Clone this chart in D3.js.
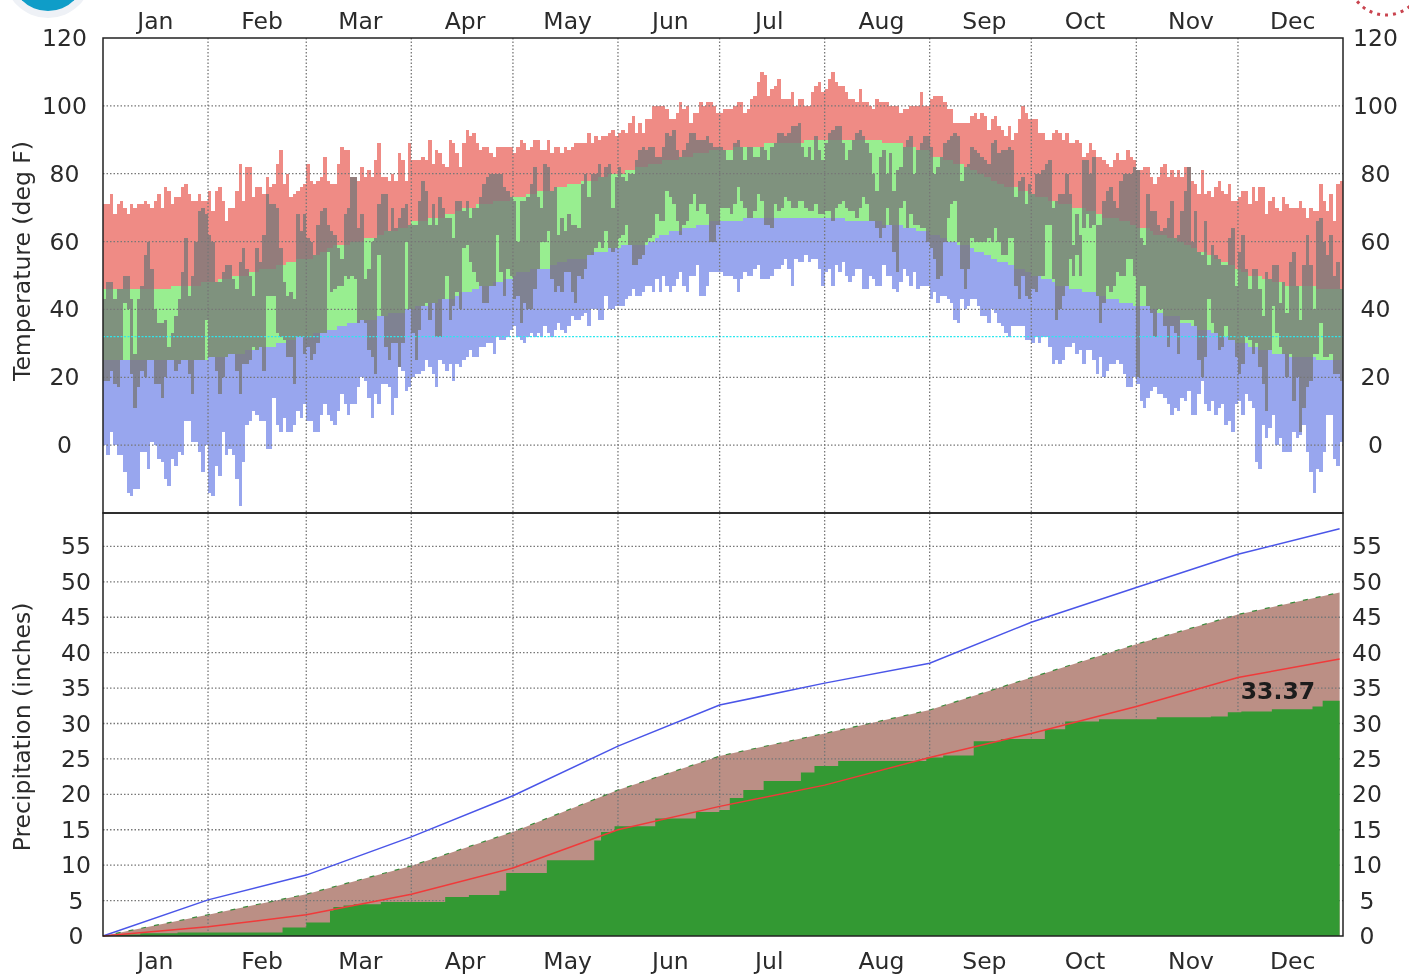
<!DOCTYPE html>
<html>
<head>
<meta charset="utf-8">
<script src="https://cdn.jsdelivr.net/npm/d3@7"></script>
<style>
  body { margin: 0; background: #fff; }
  text { font-family: "DejaVu Sans", sans-serif; font-size: 23.5px; fill: #2b2b2b; }
  .axis path, .axis line { display: none; }
  .grid { stroke: #777; stroke-width: 1.3; stroke-dasharray: 1.5 2; fill: none; }
  svg { filter: blur(0.45px); }
</style>
</head>
<body>
<div class="chart"></div>
<script>
// Daily values, Jan 1 to Dec 31 of a leap year, one line per month (deg F)
var recordHigh = [
  71,71,74,68,71,72,70,68,71,70,71,71,72,71,70,72,74,70,76,75,71,73,73,76,77,74,72,72,74,72,72,
  75,69,75,76,72,66,70,70,75,83,72,82,82,73,76,76,74,79,76,77,83,87,77,80,73,74,75,76,77,
  83,78,77,78,79,85,78,77,77,83,88,87,87,79,79,78,82,79,81,79,84,89,79,79,78,80,78,86,84,78,89,
  84,84,84,85,84,90,83,87,86,83,82,90,89,86,82,89,93,91,92,89,87,88,88,86,85,88,88,88,88,88,
  86,88,90,89,87,88,90,90,87,87,90,86,88,88,86,88,87,88,89,89,89,89,92,89,91,90,91,91,92,93,91,
  92,93,92,95,97,92,95,92,96,96,100,100,100,100,99,96,96,98,101,99,100,95,98,98,101,100,101,101,100,98,
  98,99,99,99,100,101,101,98,99,102,103,107,110,109,103,105,106,108,102,102,102,104,100,102,102,100,100,104,106,107,104,
  105,108,110,107,106,106,104,102,102,101,105,101,101,100,99,102,101,101,101,100,100,100,98,99,99,100,100,100,104,100,100,
  102,103,103,103,101,99,99,95,95,95,95,95,97,98,96,98,97,93,96,97,94,93,91,94,90,92,96,100,98,96,
  96,96,92,92,90,90,92,93,92,90,92,89,89,90,89,85,86,89,87,85,85,84,83,82,84,86,84,84,87,85,84,
  81,81,82,82,79,77,79,82,83,79,81,79,81,79,82,82,78,77,74,81,74,75,73,76,78,75,74,77,72,72,
  73,75,75,71,76,72,76,76,68,72,73,70,69,73,71,70,70,70,72,70,67,70,69,69,77,72,69,74,66,77,78
];
var recordLow = [
  0,-3,4,0,-3,-3,-8,-14,-15,-13,-13,-2,-2,-7,1,0,-4,-5,-10,-12,-4,-6,-2,-3,7,7,1,1,-2,-8,0,
  -14,-15,-6,-9,4,-3,-1,-3,-10,-18,-5,6,7,10,9,7,7,-1,-1,14,6,4,8,4,4,6,10,8,12,
  7,7,4,4,9,12,9,7,6,10,15,12,9,12,12,17,20,19,14,8,15,12,18,18,17,9,14,23,22,16,17,
  20,21,21,22,25,23,21,17,25,24,22,24,19,24,23,25,26,28,26,26,29,29,30,30,27,32,31,31,32,34,
  35,32,31,30,32,33,32,33,32,35,33,32,34,36,34,33,35,38,37,37,38,39,35,40,40,37,37,44,40,40,41,
  41,41,43,44,46,44,44,45,47,47,45,49,45,50,47,45,47,49,51,47,45,50,50,53,44,44,47,51,51,51,
  51,50,50,50,49,45,49,51,50,50,52,53,49,49,49,50,52,52,53,55,52,47,55,54,54,56,54,55,55,52,47,
  51,52,47,53,51,54,50,48,50,52,52,46,46,50,49,47,47,53,50,50,46,45,48,52,50,47,51,46,47,47,47,
  43,45,42,44,44,43,42,37,36,43,40,41,43,43,41,38,38,36,40,39,36,35,33,32,35,35,35,35,31,31,
  30,32,30,32,32,29,24,25,24,25,29,29,30,27,28,24,28,28,25,21,26,20,22,24,24,25,24,21,17,17,20,
  18,13,11,14,16,17,15,15,14,12,9,11,10,14,13,16,9,9,15,19,12,10,13,9,11,12,6,7,4,12,
  13,9,15,13,11,-5,-7,6,2,5,9,0,2,-2,-2,-2,4,2,3,6,-2,-8,-14,-7,-8,-2,9,9,-4,-6,1
];
var normalHigh = [
  46,46,46,46,46,46,46,46,46,46,46,46,46,46,46,46,46,46,46,46,47,47,47,47,47,47,47,47,47,48,48,
  48,48,48,49,49,49,49,50,50,50,50,50,51,51,51,52,52,52,52,52,53,53,53,54,54,54,55,55,55,
  55,55,56,56,57,57,58,58,59,59,59,59,59,60,60,60,60,61,61,61,61,62,62,63,63,63,63,64,64,64,65,
  66,66,66,66,66,67,67,67,67,67,68,68,68,69,69,70,70,70,70,71,71,71,71,71,72,72,72,72,72,73,
  73,73,73,73,74,74,74,75,75,75,75,75,76,76,76,76,77,77,77,77,78,78,78,78,78,79,79,79,80,80,80,
  80,80,81,81,81,82,82,82,82,83,83,83,83,84,84,84,84,84,85,85,85,85,86,86,86,86,86,87,87,87,
  87,87,87,87,88,88,88,88,88,88,88,88,88,89,89,89,89,89,89,89,89,89,89,89,89,90,90,90,90,90,90,
  90,90,90,90,90,90,90,90,90,90,90,90,90,90,90,90,90,89,89,89,89,89,89,88,88,88,88,87,87,87,87,
  85,85,85,85,84,84,84,83,83,83,82,82,81,81,80,80,79,79,78,78,77,77,76,76,76,76,75,75,75,74,
  74,73,73,73,73,72,72,72,71,71,71,71,70,70,70,70,69,69,69,68,68,67,67,67,67,67,66,66,66,65,65,
  64,64,64,64,63,62,62,62,62,61,61,61,60,60,59,59,58,58,57,57,57,56,56,55,55,54,54,53,53,52,
  52,51,51,50,50,50,50,49,49,49,48,48,48,48,47,47,47,47,47,47,47,47,47,46,46,46,46,46,46,46,46
];
var normalLow = [
  25,25,25,25,25,25,25,25,25,25,25,25,25,25,25,25,25,25,25,25,25,25,25,25,25,25,25,25,25,25,25,
  26,26,26,26,26,26,27,27,27,27,27,28,28,28,28,29,29,29,29,29,30,30,30,31,31,31,32,32,32,
  32,32,33,33,33,33,34,34,34,35,35,35,36,36,36,37,37,37,37,37,37,38,38,38,39,39,39,39,39,40,40,
  40,41,41,41,41,42,42,42,43,43,43,43,43,44,45,45,45,45,46,46,47,47,47,47,48,48,48,49,49,49,
  50,51,51,51,51,52,52,52,52,52,52,53,53,54,54,54,55,55,55,55,55,55,56,57,57,57,57,57,58,58,58,
  58,59,59,59,59,59,59,59,59,60,60,61,62,62,62,63,63,63,63,64,64,64,64,65,65,65,65,66,66,66,
  66,66,66,66,66,66,66,67,67,67,67,67,67,67,67,67,67,67,67,67,67,67,67,67,67,67,67,67,67,67,67,
  67,67,67,67,67,67,66,66,66,66,66,66,66,66,66,66,66,65,65,65,65,65,65,64,64,64,64,63,63,63,63,
  62,62,62,61,61,60,60,60,59,59,59,59,58,57,57,57,56,56,55,55,54,54,54,53,53,52,52,52,51,51,
  50,50,50,49,49,49,48,47,47,47,47,46,46,46,46,45,45,45,45,44,44,44,43,43,43,43,42,42,42,42,41,
  41,41,41,41,40,40,39,39,38,38,38,38,38,36,36,36,35,35,34,34,34,34,33,33,32,32,32,31,31,30,
  30,30,30,29,29,29,28,28,28,28,27,27,27,27,27,26,26,26,26,26,26,26,26,25,25,25,25,25,25,25,25
];
var observedHigh = [
  43,48,48,43,46,46,50,50,43,27,43,47,56,60,52,40,36,36,37,29,33,38,43,51,61,44,50,60,69,70,68,
  62,60,48,48,51,53,53,49,46,54,58,52,50,44,58,54,62,74,71,71,70,58,48,44,45,43,68,63,68,
  61,60,56,65,69,70,65,63,62,58,55,68,70,79,79,64,68,49,52,60,61,71,74,74,63,70,64,67,70,71,65,
  65,65,72,78,75,65,71,65,73,70,67,67,61,72,72,69,72,67,70,70,73,77,79,80,80,80,80,76,75,73,
  72,60,72,72,73,77,82,73,70,83,82,75,76,62,67,63,68,65,65,64,77,80,73,80,80,83,79,82,83,70,79,
  82,79,78,80,80,84,87,88,87,88,88,85,85,88,92,91,93,87,85,87,89,92,92,90,90,90,91,89,88,88,
  88,87,84,84,89,90,88,84,88,88,85,85,88,87,84,88,89,92,92,91,92,94,94,95,88,85,88,84,91,87,84,
  89,92,93,94,94,89,84,87,90,92,93,91,89,86,80,75,85,87,80,86,75,81,82,88,90,91,80,87,89,91,91,
  88,80,82,85,89,90,91,92,91,78,82,83,88,87,86,85,84,83,89,90,86,87,87,88,87,73,78,79,71,77,
  74,80,80,81,83,84,70,72,74,74,80,74,59,68,62,84,84,80,85,65,65,72,75,76,72,70,78,80,80,80,82,
  81,61,59,74,69,69,65,63,64,67,72,61,62,69,75,82,60,69,57,56,66,53,59,56,55,53,53,61,64,47,
  57,62,52,46,52,52,46,38,51,49,53,53,42,48,39,54,57,47,37,53,62,53,40,66,67,60,56,62,50,54,46
];
var observedLow = [
  19,19,22,18,17,25,42,40,21,11,17,22,20,25,25,18,18,14,20,25,25,22,24,25,25,21,15,25,25,25,37,
  26,26,22,15,20,26,27,27,22,15,24,24,25,29,28,29,22,44,44,44,33,32,31,26,26,18,32,32,27,
  29,25,27,30,33,33,57,45,46,47,47,50,49,50,49,36,37,36,28,26,21,56,38,29,25,30,30,23,30,60,40,
  33,25,34,41,42,37,42,32,32,43,50,37,41,45,40,58,59,54,51,48,47,42,42,47,47,62,51,44,52,50,
  43,44,36,42,40,40,46,52,60,60,63,49,45,47,45,51,51,45,42,50,49,52,56,56,58,60,58,63,58,57,58,
  61,62,65,59,53,53,55,56,60,61,62,68,66,66,75,73,71,66,62,65,66,71,74,69,71,71,68,60,60,65,
  70,70,70,68,71,76,72,70,67,67,69,74,72,65,65,64,71,69,70,73,72,70,70,72,72,70,69,69,71,68,68,
  69,69,66,70,71,72,70,69,69,67,70,73,71,66,66,64,61,64,70,65,57,51,70,72,64,68,65,65,64,64,60,
  58,55,49,50,60,67,71,72,60,52,46,52,61,60,60,60,60,61,60,64,60,56,56,61,61,47,43,50,44,43,
  46,45,50,50,65,65,49,37,40,44,47,55,50,56,50,64,68,64,65,44,36,42,47,45,47,51,50,50,55,55,50,
  20,47,47,41,39,32,40,40,35,29,35,33,27,37,37,37,37,35,25,20,26,43,36,33,28,29,35,31,31,26,
  21,24,32,31,27,30,23,18,10,28,41,33,29,27,20,27,13,20,4,11,17,19,27,27,36,26,26,27,21,21,19
];
var freezing = 32;

// Accumulated precipitation (inches), lines are read at month starts
var monthStarts = [0,31,60,91,121,152,182,213,244,274,305,335,365];
var wettestLine = [0,5.1,8.6,14,19.8,26.8,32.6,35.7,38.5,44.3,49.2,53.9,57.5];
var normalLine = [0,1.3,3,5.9,9.6,15,18.3,21.3,25.2,28.6,32.4,36.5,39.1];
var meanArea = [0,3,5.9,9.9,14.7,20.6,25.4,28.6,31.9,36.5,41.2,45.4,48.5];

// Observed accumulation only changes on some days: [day it changes, new total]
var obsDays = [0,4,11,22,53,60,67,68,71,74,82,101,108,117,119,131,145,147,151,163,175,182,185,189,195,206,210,217,243,248,257,265,278,284,294,311,327,332,336,345,357,360,365];
var obsTotal = [0,0.2,0.4,0.5,1.2,1.9,3.6,4.1,4.3,4.5,4.8,5.5,5.8,6.4,8.9,10.7,13.5,14.7,15.5,16.6,17.5,17.8,19.5,20.6,21.9,23.1,24,24.7,25.2,25.5,27.5,27.8,29.2,30.3,30.6,30.9,31,31.6,31.7,32,32.4,33.2,33.37];
var obsLabel = "33.37";

var monthNames = ["Jan","Feb","Mar","Apr","May","Jun","Jul","Aug","Sep","Oct","Nov","Dec"];
var monthLabelDays = [15.3,46.8,75.8,106.7,137,167.3,196.5,229.6,260,289.7,321,351];
var tempTicks = [0,20,40,60,80,100,120];
var precipTicks = [0,5,10,15,20,25,30,35,40,45,50,55];

// Chart dimensions
var svgWidth = 1409;
var svgHeight = 974;
var margin = { left: 103, right: 1343, top: 38, split: 513, bottom: 936 };

var svg = d3.select(".chart")
  .append("svg")
  .attr("width", svgWidth)
  .attr("height", svgHeight)
  .style("display", "block");

// Scales
var x = d3.scaleLinear().domain([0, 366]).range([margin.left, margin.right]);
var yTemp = d3.scaleLinear().domain([-20, 120]).range([margin.split, margin.top]);
var yPrecip = d3.scaleLinear().domain([0, 60]).range([margin.bottom, margin.bottom - 425]);

// Clipped agency logos in the top corners
svg.append("circle").attr("cx", 48).attr("cy", -26).attr("r", 44).attr("fill", "#eef1f6");
svg.append("circle").attr("cx", 48).attr("cy", -26).attr("r", 37).attr("fill", "#0f9dc8");
svg.append("circle").attr("cx", 1386).attr("cy", -22).attr("r", 37)
  .attr("fill", "#fff").attr("stroke", "#c9444f").attr("stroke-width", 3).attr("stroke-dasharray", "3 5");

// Temperature bands, one rect per day
var days = d3.range(recordHigh.length);
function dayBars(cls, color, hi, lo) {
  svg.append("g").selectAll("rect." + cls)
    .data(days)
    .enter()
    .append("rect")
    .attr("class", cls)
    .attr("x", d => x(d))
    .attr("width", d => x(d + 1) - x(d))
    .attr("y", d => yTemp(hi[d]))
    .attr("height", d => Math.max(0, yTemp(lo[d]) - yTemp(hi[d])))
    .attr("fill", color)
    .attr("shape-rendering", "crispEdges");
}
dayBars("rec-high", "#ef8b85", recordHigh, normalHigh);
dayBars("normal", "#98ee90", normalHigh, normalLow);
dayBars("rec-low", "#98a6ee", normalLow, recordLow);
dayBars("observed", "rgba(120,120,120,0.78)", observedHigh, observedLow);

// Freezing line
svg.append("line")
  .attr("x1", margin.left).attr("x2", margin.right)
  .attr("y1", yTemp(freezing)).attr("y2", yTemp(freezing))
  .attr("stroke", "#2be8ee").attr("stroke-width", 1.3).attr("stroke-dasharray", "2 1.5");

function hGrid(values, scale) {
  svg.append("g").selectAll("line")
    .data(values)
    .enter()
    .append("line")
    .attr("class", "grid")
    .attr("x1", margin.left).attr("x2", margin.right)
    .attr("y1", d => scale(d)).attr("y2", d => scale(d));
}
function vGrid(top, bottom) {
  svg.append("g").selectAll("line")
    .data(monthStarts.slice(1, -1))
    .enter()
    .append("line")
    .attr("class", "grid")
    .attr("x1", d => x(d)).attr("x2", d => x(d))
    .attr("y1", top).attr("y2", bottom);
}
hGrid(tempTicks.slice(1, -1).concat([0]), yTemp);
vGrid(margin.top, margin.split);

// Precipitation panel
var meanPoints = monthStarts.map((d, i) => [d, meanArea[i]]);
svg.append("path")
  .attr("d", d3.area().x(d => x(d[0])).y0(yPrecip(0)).y1(d => yPrecip(d[1]))(meanPoints))
  .attr("fill", "#bb8f85");
svg.append("path")
  .attr("d", d3.line().x(d => x(d[0])).y(d => yPrecip(d[1]))(meanPoints))
  .attr("fill", "none").attr("stroke", "#3d8a3d").attr("stroke-width", 1.2).attr("stroke-dasharray", "5 8");

hGrid(precipTicks.slice(1), yPrecip);
vGrid(margin.split, margin.bottom);

var obsPoints = obsDays.map((d, i) => [d, obsTotal[i]]);
svg.append("path")
  .attr("d", d3.area().curve(d3.curveStepAfter).x(d => x(d[0])).y0(yPrecip(0)).y1(d => yPrecip(d[1]))(obsPoints))
  .attr("fill", "#339933");

var lineGen = d3.line().x(d => x(d[0])).y(d => yPrecip(d[1]));
svg.append("path")
  .attr("d", lineGen(monthStarts.map((d, i) => [d, wettestLine[i]])))
  .attr("fill", "none").attr("stroke", "#4a55e8").attr("stroke-width", 1.5);
svg.append("path")
  .attr("d", lineGen(monthStarts.map((d, i) => [d, normalLine[i]])))
  .attr("fill", "none").attr("stroke", "#f03a3a").attr("stroke-width", 1.5);

svg.append("text")
  .attr("x", x(346.8))
  .attr("y", 699)
  .attr("text-anchor", "middle")
  .attr("font-weight", "bold")
  .style("fill", "#1c1c1c")
  .text(obsLabel);

// Frames
[[margin.top, margin.split], [margin.split, margin.bottom]].forEach(p => {
  svg.append("rect")
    .attr("x", margin.left).attr("y", p[0])
    .attr("width", margin.right - margin.left).attr("height", p[1] - p[0])
    .attr("fill", "none").attr("stroke", "#222").attr("stroke-width", 1.5);
});

// Axes
var monthAxis = d => d.tickValues(monthLabelDays).tickFormat((v, i) => monthNames[i]).tickSize(0).tickPadding(0);
svg.append("g").attr("class", "axis").attr("transform", "translate(0, 29)").call(monthAxis(d3.axisTop(x)));
svg.append("g").attr("class", "axis").attr("transform", "translate(0, 952)").call(monthAxis(d3.axisBottom(x)));

function valueAxis(scale, ticks, left, right) {
  svg.append("g").attr("class", "axis").call(d3.axisLeft(scale).tickValues(ticks).tickSize(0))
    .selectAll("text").attr("x", left).attr("text-anchor", "middle");
  svg.append("g").attr("class", "axis").call(d3.axisRight(scale).tickValues(ticks).tickSize(0))
    .selectAll("text").attr("x", right).attr("text-anchor", "middle");
}
valueAxis(yTemp, tempTicks, 64.5, 1375.5);
valueAxis(yPrecip, precipTicks, 76, 1367);

// Axis labels
svg.append("text")
  .attr("transform", "translate(30, 261) rotate(-90)")
  .attr("text-anchor", "middle")
  .text("Temperature (deg F)");
svg.append("text")
  .attr("transform", "translate(30, 727) rotate(-90)")
  .attr("text-anchor", "middle")
  .text("Precipitation (inches)");
</script>
</body>
</html>
